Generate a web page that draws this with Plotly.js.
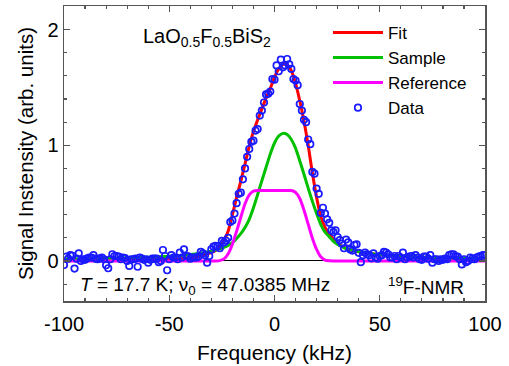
<!DOCTYPE html>
<html>
<head>
<meta charset="utf-8">
<script src="https://cdn.plot.ly/plotly-3.0.1.min.js"></script>
<style>html,body{margin:0;padding:0;background:#fff;}#chart{width:509px;height:366px;}</style>
</head>
<body>
<div id="chart"></div>
<script>
// Measured data: frequency starts at -100 kHz, 1 kHz step
const dataStart = -100;
const dataStep = 1;
const dataY = [
 -0.035,0.037,0.02,0.05,0.045,-0.066,0.02,0.066,0.0,0.015,
 0.01,0.023,0.03,0.03,0.05,0.02,0.015,0.023,0.03,0.015,
 -0.037,-0.063,0.015,0.058,0.043,0.043,0.037,0.015,0.03,0.025,
 0.0,-0.043,0.015,0.015,0.02,-0.05,0.03,0.02,0.01,0.015,
 -0.015,0.01,0.02,0.02,0.02,-0.01,0.0,0.095,0.043,-0.08,
 0.015,0.05,0.03,0.03,0.015,0.072,0.03,0.1,0.043,0.04,
 0.02,0.03,0.03,0.03,0.04,0.078,0.066,0.05,-0.015,0.043,
 0.1,0.124,0.13,0.127,0.11,0.173,0.16,0.175,0.2,0.337,
 0.35,0.41,0.5,0.58,0.59,0.706,0.8,0.9,0.968,1.03,
 1.04,1.127,1.14,1.257,1.30,1.37,1.44,1.446,1.464,1.573,
 1.567,1.69,1.64,1.74,1.674,1.69,1.746,1.70,1.66,1.573,
 1.56,1.52,1.357,1.30,1.22,1.2,1.05,1.01,0.77,0.755,
 0.626,0.58,0.415,0.46,0.41,0.36,0.33,0.265,0.25,0.265,
 0.207,0.18,0.15,0.11,0.185,0.16,0.1,0.09,0.138,0.144,
 0.07,-0.01,0.05,0.072,0.058,0.05,0.023,0.066,0.03,0.02,
 0.043,0.05,0.078,0.072,0.058,0.03,0.03,0.043,0.015,0.043,
 0.03,0.072,0.015,0.03,0.037,0.043,0.03,0.05,0.03,0.015,
 0.01,0.037,0.037,0.02,0.05,-0.015,0.015,0.015,0.0,0.015,
 0.01,0.02,0.015,0.05,0.058,0.058,0.04,0.037,0.015,-0.03,
 0.015,-0.01,0.0,0.03,0.02,0.015,0.03,0.037,0.043,0.05,
 0.05
];

// Curves
const curveX = [-100,-90,-80,-70,-60,-50,-45,-40,-36,-32,-30,-28,-26,-24,-22,-20,-18,-16,-14,-12,-10,-8,-6,-4,-2,0,2,4,6,8,10,12,14,16,18,20,22,24,26,28,30,32,34,36,40,45,50,60,70,80,90,100];
const fitY = [0.005,0.005,0.006,0.006,0.008,0.012,0.018,0.028,0.04,0.06,0.072,0.09,0.125,0.18,0.26,0.40,0.55,0.69,0.84,0.99,1.12,1.22,1.315,1.41,1.49,1.59,1.66,1.70,1.695,1.645,1.535,1.385,1.21,1.0,0.76,0.55,0.385,0.29,0.235,0.19,0.155,0.128,0.11,0.097,0.08,0.064,0.054,0.04,0.032,0.026,0.021,0.018];
const sampleY = [0.016,0.019,0.022,0.028,0.033,0.041,0.048,0.056,0.065,0.078,0.085,0.094,0.104,0.117,0.134,0.158,0.195,0.237,0.29,0.36,0.46,0.575,0.695,0.81,0.925,1.02,1.08,1.103,1.093,1.05,0.975,0.865,0.75,0.63,0.515,0.41,0.315,0.25,0.21,0.17,0.143,0.123,0.107,0.098,0.082,0.065,0.055,0.041,0.033,0.027,0.022,0.019];
const referenceY = [0,0,0,0,0,0,0,0,0,0,0,0,0.003,0.018,0.063,0.145,0.257,0.378,0.495,0.572,0.604,0.61,0.61,0.61,0.61,0.61,0.61,0.61,0.61,0.609,0.593,0.54,0.44,0.318,0.197,0.10,0.036,0.008,0.001,0,0,0,0,0,0,0,0,0,0,0,0,0];

const xTickVals = [-100,-50,0,50,100];
const xTickText = ['-100','-50','0','50','100'];
const yTickVals = [0,1,2];
const yTickText = ['0','1','2'];

const FONT = 'Liberation Sans, Arial, sans-serif';

const traces = [
  {x: curveX, y: fitY, name: 'Fit', mode: 'lines', line: {color: '#ff0000', width: 3, shape: 'spline', smoothing: 0.6}},
  {x: curveX, y: sampleY, name: 'Sample', mode: 'lines', line: {color: '#00c000', width: 3, shape: 'spline', smoothing: 0.6}},
  {x: curveX, y: referenceY, name: 'Reference', mode: 'lines', line: {color: '#ff00ff', width: 3, shape: 'spline', smoothing: 0.6}},
  {x0: dataStart, dx: dataStep, y: dataY, name: 'Data', mode: 'markers',
   marker: {symbol: 'circle-open', size: 6.5, color: '#1a1aff', line: {width: 1.7, color: '#1a1aff'}}}
];

const axisCommon = {
  showgrid: false, ticks: 'inside', mirror: 'ticks', showline: true,
  linecolor: '#555', linewidth: 1.5, tickcolor: '#555', tickwidth: 1.2, ticklen: 6,
  tickfont: {family: FONT, size: 20, color: '#000'}
};

const layout = {
  width: 509, height: 366,
  margin: {l: 64, r: 24, t: 6, b: 65},
  paper_bgcolor: '#fff', plot_bgcolor: '#fff',
  font: {family: FONT, color: '#000'},
  showlegend: true,
  legend: {x: 0.627, y: 0.97, xanchor: 'left', yanchor: 'top', bgcolor: 'rgba(0,0,0,0)',
           font: {family: FONT, size: 17, color: '#000'}, itemwidth: 50, tracegroupgap: 0},
  xaxis: Object.assign({}, axisCommon, {
    range: [-100, 100], tickmode: 'array', tickvals: xTickVals, ticktext: xTickText,
    zeroline: false, ticklabelstandoff: 4,
    minor: {dtick: 10, ticklen: 3, ticks: 'inside', tickcolor: '#555', tickwidth: 1.2},
    title: {text: 'Frequency (kHz)', font: {family: FONT, size: 21, color: '#000'}, standoff: 12}
  }),
  yaxis: Object.assign({}, axisCommon, {
    range: [-0.346, 2.204], tickmode: 'array', tickvals: yTickVals, ticktext: yTickText,
    zeroline: true, zerolinecolor: '#000', zerolinewidth: 1,
    minor: {dtick: 0.2, ticklen: 3, ticks: 'inside', tickcolor: '#555', tickwidth: 1.2},
    title: {text: 'Signal Instensity (arb. units)', font: {family: FONT, size: 20.5, color: '#000'}, standoff: 8}
  }),
  annotations: [
    {x: -63.4, y: 1.93, xref: 'x', yref: 'y', xanchor: 'left', yanchor: 'middle', showarrow: false,
     text: 'LaO<sub>0.5</sub>F<sub>0.5</sub>BiS<sub>2</sub>', font: {family: FONT, size: 20, color: '#000'}},
    {x: -93.5, y: -0.215, xref: 'x', yref: 'y', xanchor: 'left', yanchor: 'middle', showarrow: false,
     text: '<i>T</i> = 17.7 K; ν<sub>0</sub> = 47.0385 MHz', font: {family: FONT, size: 19, color: '#000'}},
    {x: 91, y: -0.215, xref: 'x', yref: 'y', xanchor: 'right', yanchor: 'middle', showarrow: false,
     text: '<sup>19</sup>F-NMR', font: {family: FONT, size: 19, color: '#000'}}
  ]
};

Plotly.newPlot('chart', traces, layout, {staticPlot: true, displayModeBar: false});
</script>
</body>
</html>
